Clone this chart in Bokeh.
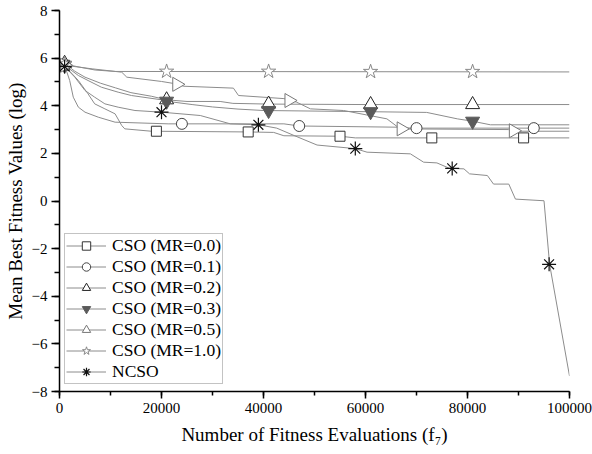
import math
from bokeh.plotting import figure
from bokeh.models import (Range1d, SingleIntervalTicker, BasicTickFormatter,
                          Legend, LegendItem)
from bokeh.embed import file_html
from bokeh.resources import INLINE

# ---------------- data ----------------
mr00_x = [1000, 2000, 3700, 5600, 6900, 8900, 10900, 12200, 12800, 18000, 37000, 42000, 44000, 55000, 58000, 100000]
mr00_y = [5.70, 5.45, 5.06, 4.50, 4.08, 3.87, 3.66, 3.17, 3.03, 2.93, 2.90, 2.88, 2.74, 2.72, 2.65, 2.65]
mr00_mx = [1000, 19000, 37000, 55000, 73000, 91000]
mr00_my = [5.70, 2.93, 2.90, 2.72, 2.65, 2.65]

mr01_x = [1000, 2000, 2700, 3700, 5000, 7600, 10900, 21300, 44000, 47000, 66000, 69000, 100000]
mr01_y = [5.70, 5.06, 4.36, 3.94, 3.73, 3.52, 3.31, 3.24, 3.24, 3.15, 3.10, 3.06, 3.06]
mr01_mx = [1000, 24000, 47000, 70000, 93000]
mr01_my = [5.70, 3.24, 3.15, 3.06, 3.06]

mr02_x = [1000, 3000, 5000, 8000, 11000, 14000, 18000, 21000, 25000, 31500, 34000, 41000, 60000, 100000]
mr02_y = [5.78, 5.45, 5.20, 4.95, 4.75, 4.55, 4.40, 4.25, 4.18, 4.18, 4.10, 4.07, 4.05, 4.05]
mr02_mx = [1000, 21000, 41000, 61000, 81000]
mr02_my = [5.78, 4.25, 4.07, 4.05, 4.05]

mr03_x = [1000, 3700, 5600, 8200, 11500, 14100, 20000, 21000, 26000, 30000, 35000, 40000, 61000, 72000, 78000, 81000, 84500, 100000]
mr03_y = [5.70, 5.27, 5.06, 4.78, 4.57, 4.43, 4.25, 4.19, 4.05, 3.95, 3.86, 3.80, 3.75, 3.72, 3.45, 3.35, 3.20, 3.20]
mr03_mx = [1000, 21000, 41000, 61000, 81000]
mr03_my = [5.70, 4.19, 3.80, 3.75, 3.35]

mr05_x = [1000, 6400, 12200, 13200, 20000, 23400, 24300, 34100, 35100, 44000, 46500, 49200, 55700, 64200, 66800, 88000, 89500, 100000]
mr05_y = [5.70, 5.55, 5.41, 5.20, 5.02, 4.90, 4.82, 4.74, 4.43, 4.30, 4.15, 3.87, 3.80, 3.45, 3.03, 3.00, 2.93, 2.93]
mr05_mx = [1000, 23000, 45000, 67000, 89000]
mr05_my = [5.70, 4.90, 4.22, 3.03, 2.95]

mr10_x = [1000, 4000, 7000, 11000, 100000]
mr10_y = [5.75, 5.62, 5.50, 5.44, 5.42]
mr10_mx = [1000, 21000, 41000, 61000, 81000]
mr10_my = [5.75, 5.44, 5.44, 5.43, 5.43]

ncso_x = [1000, 3000, 5000, 6900, 8900, 11500, 14800, 20000, 27600, 33500, 39000, 42600, 46000, 50500, 58000,
          60300, 68800, 71400, 74000, 76500, 79300, 80400, 83900, 85100, 88100, 89400, 95000, 96100, 100000]
ncso_y = [5.65, 5.20, 4.64, 4.36, 4.08, 3.94, 3.80, 3.73, 3.59, 3.24, 3.20, 3.06, 2.75, 2.35, 2.20,
          2.05, 1.98, 1.63, 1.60, 1.37, 1.35, 1.14, 1.07, 0.71, 0.71, 0.08, 0.01, -2.66, -7.35]
ncso_mx = [1000, 20000, 39000, 58000, 77000, 96000]
ncso_my = [5.65, 3.73, 3.20, 2.20, 1.37, -2.66]

labels = ["CSO (MR=0.0)", "CSO (MR=0.1)", "CSO (MR=0.2)", "CSO (MR=0.3)",
          "CSO (MR=0.5)", "CSO (MR=1.0)", "NCSO"]

x_label = "Number of Fitness Evaluations (f\u2087)"
y_label = "Mean Best Fitness Values (log)"

# ---------------- figure ----------------
FONT = "Liberation Serif"
p = figure(width=592, height=454, output_backend="svg", toolbar_location=None,
           x_range=Range1d(0, 100000), y_range=Range1d(-8, 8),
           min_border_left=59, min_border_right=23, min_border_top=10, min_border_bottom=63)
p.xgrid.visible = False
p.ygrid.visible = False
p.outline_line_color = None
p.background_fill_color = "white"
p.border_fill_color = "white"

p.xaxis.ticker = SingleIntervalTicker(interval=20000, num_minor_ticks=2)
p.yaxis.ticker = SingleIntervalTicker(interval=2, num_minor_ticks=2)
p.xaxis.formatter = BasicTickFormatter(use_scientific=False)
p.xaxis.axis_label = x_label
p.yaxis.axis_label = y_label

for ax in (p.xaxis, p.yaxis):
    ax.axis_line_color = "black"
    ax.axis_line_width = 1.5
    ax.major_tick_line_color = "black"
    ax.major_tick_line_width = 1.5
    ax.minor_tick_line_color = "black"
    ax.minor_tick_line_width = 1.5
    ax.major_tick_in = 0
    ax.minor_tick_in = 0
    ax.major_label_text_font = FONT
    ax.major_label_text_font_size = "15px"
    ax.major_label_text_color = "black"
    ax.axis_label_text_font = FONT
    ax.axis_label_text_font_size = "19px"
    ax.axis_label_text_font_style = "normal"
    ax.axis_label_text_color = "black"

p.xaxis.major_tick_out = 7
p.xaxis.minor_tick_out = 4
p.yaxis.major_tick_out = 8
p.yaxis.minor_tick_out = 5
p.xaxis.major_label_standoff = 4
p.xaxis.axis_label_standoff = 8
p.yaxis.major_label_standoff = 4
p.yaxis.axis_label_standoff = 3

LINE = "#8c8c8c"
series = [
    (mr00_x, mr00_y, mr00_mx, mr00_my, dict(marker="square", size=10, fill_color="white", line_color="#333333")),
    (mr01_x, mr01_y, mr01_mx, mr01_my, dict(marker="circle", size=11, fill_color="white", line_color="#444444")),
    (mr02_x, mr02_y, mr02_mx, mr02_my, dict(marker="triangle", size=14, fill_color="white", line_color="#222222")),
    (mr03_x, mr03_y, mr03_mx, mr03_my, dict(marker="inverted_triangle", size=14, fill_color="#5a5a5a", line_color="#5a5a5a")),
    (mr05_x, mr05_y, mr05_mx, mr05_my, dict(marker="triangle", size=14, angle=-math.pi / 2, fill_color="white", line_color="#777777")),
    (mr10_x, mr10_y, mr10_mx, mr10_my, dict(marker="star", size=15, fill_color="white", line_color="#888888")),
    (ncso_x, ncso_y, ncso_mx, ncso_my, dict(marker="asterisk", size=14, line_color="#111111", line_width=1.2)),
]

line_renderers = []
for xs, ys, _, _, _ in series:
    line_renderers.append(p.line(xs, ys, line_color=LINE, line_width=1))

items = []
for (xs, ys, mx, my, style), lr, lab in zip(series, line_renderers, labels):
    sr = p.scatter(mx, my, **style)
    items.append(LegendItem(label=lab, renderers=[lr, sr]))

legend = Legend(items=items, location=(5, 7), margin=0, padding=1, spacing=0,
                glyph_width=40, glyph_height=21, label_height=21, label_standoff=6,
                label_text_font=FONT, label_text_font_size="17.5px", label_text_color="black",
                label_text_line_height=1.0,
                border_line_color="#888888", border_line_width=1,
                background_fill_color="white", background_fill_alpha=1.0)
p.add_layout(legend)

open("out.html", "w").write(file_html(p, INLINE))
